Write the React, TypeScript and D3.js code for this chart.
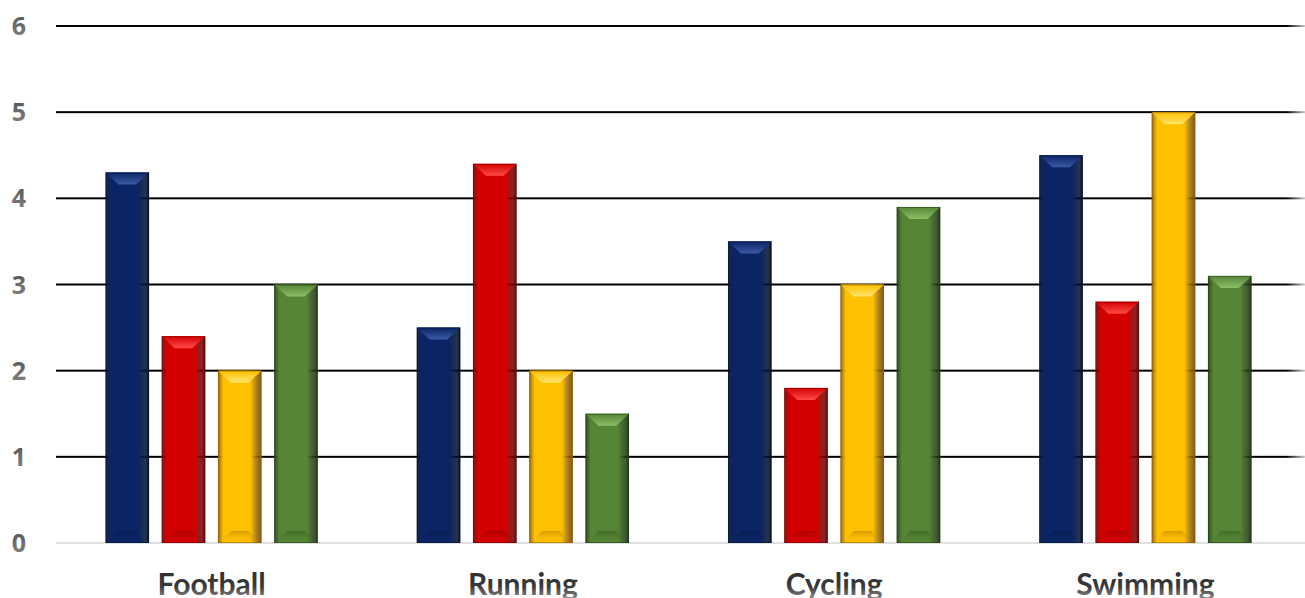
import React from "react";
import * as d3 from "d3";

const categories = ["Football", "Running", "Cycling", "Swimming"];
const seriesNames = ["Series 1", "Series 2", "Series 3", "Series 4"];
const series1 = [4.3, 2.5, 3.5, 4.5];
const series2 = [2.4, 4.4, 1.8, 2.8];
const series3 = [2.0, 2.0, 3.0, 5.0];
const series4 = [3.0, 1.5, 3.9, 3.1];
const yTicks = [0, 1, 2, 3, 4, 5, 6];

const W = 1305;
const H = 598;

const palette = [
  { base: "#0b2466", dark: "#00102e", light: "#3a5aa6" },
  { base: "#d40000", dark: "#6e0000", light: "#ff4a4a" },
  { base: "#ffc000", dark: "#8a5a00", light: "#ffe36a" },
  { base: "#558535", dark: "#1f3a12", light: "#8cbf66" },
];

export default function App() {
  const allSeries = [series1, series2, series3, series4];
  const x0 = d3.scaleBand<string>().domain(categories).range([56, 1301]).paddingInner(0).paddingOuter(0);
  const x1 = d3
    .scaleBand<string>()
    .domain(seriesNames)
    .range([0, x0.bandwidth()])
    .paddingInner(0.225)
    .paddingOuter(0.88);
  const y = d3.scaleLinear().domain([0, 6]).range([543, 26]);

  const bw = x1.bandwidth();
  const bevelD = 12;
  const bevelIn = 13;

  return (
    <svg
      width={W}
      height={H}
      style={{ position: "absolute", left: 0, top: 0, background: "#fff" }}
      fontFamily="'Open Sans', sans-serif"
    >
      <defs>
        {palette.map((c, i) => (
          <React.Fragment key={i}>
            <linearGradient id={`body${i}`} x1="0" x2="1" y1="0" y2="0">
              <stop offset="0" stopColor={c.dark} stopOpacity={0.9} />
              <stop offset="0.12" stopColor={c.base} />
              <stop offset="0.75" stopColor={c.base} />
              <stop offset="0.92" stopColor={c.dark} stopOpacity={0.85} />
              <stop offset="1" stopColor={c.dark} />
            </linearGradient>
            <linearGradient id={`top${i}`} x1="0" x2="0" y1="0" y2="1">
              <stop offset="0" stopColor={c.base} />
              <stop offset="1" stopColor={c.light} />
            </linearGradient>
            <linearGradient id={`bot${i}`} x1="0" x2="0" y1="0" y2="1">
              <stop offset="0" stopColor={c.dark} stopOpacity={0.35} />
              <stop offset="1" stopColor={c.base} stopOpacity={0} />
            </linearGradient>
          </React.Fragment>
        ))}
        <linearGradient id="textGrad" x1="0" x2="0" y1="0" y2="1">
          <stop offset="0" stopColor="#2a2a2a" />
          <stop offset="0.6" stopColor="#3a3a3a" />
          <stop offset="1" stopColor="#9a9a9a" />
        </linearGradient>
        <linearGradient id="tickGrad" x1="0" x2="0" y1="0" y2="1">
          <stop offset="0" stopColor="#4a4a4a" />
          <stop offset="1" stopColor="#8a8a8a" />
        </linearGradient>
        <linearGradient id="gridFade" x1="0" x2="1" y1="0" y2="0">
          <stop offset="0" stopColor="#000" />
          <stop offset="0.985" stopColor="#000" />
          <stop offset="1" stopColor="#000" stopOpacity={0.2} />
        </linearGradient>
      </defs>

      {/* gridlines */}
      {yTicks.map((t) =>
        t === 0 ? (
          <line key={t} x1={56} x2={1305} y1={y(t)} y2={y(t)} stroke="#d6d6d6" strokeWidth={1.5} />
        ) : (
          <rect key={t} x={56} y={y(t) - 1} width={1305 - 56} height={2} fill="url(#gridFade)" />
        )
      )}

      {/* y tick labels */}
      {yTicks.map((t) => (
        <text
          key={`l${t}`}
          x={26}
          y={y(t)}
          dy="0.36em"
          textAnchor="end"
          fontSize={25}
          fontWeight={700}
          fill="url(#tickGrad)"
        >
          {t}
        </text>
      ))}

      {/* bars */}
      {categories.map((cat, ci) => (
        <g key={cat} transform={`translate(${x0(cat)},0)`}>
          {allSeries.map((s, si) => {
            const v = s[ci];
            const bx = x1(seriesNames[si]) as number;
            const top = y(v);
            const bottom = y(0);
            return (
              <g key={si}>
                <rect x={bx} y={top} width={bw} height={bottom - top} fill={`url(#body${si})`} />
                <path
                  d={`M${bx},${top}L${bx + bw},${top}L${bx + bw - bevelIn},${top + bevelD}L${bx + bevelIn},${top + bevelD}Z`}
                  fill={`url(#top${si})`}
                />
                <path
                  d={`M${bx + 2},${bottom}L${bx + bw - 2},${bottom}L${bx + bw - bevelIn},${bottom - bevelD}L${bx + bevelIn},${bottom - bevelD}Z`}
                  fill={`url(#bot${si})`}
                />
                <rect
                  x={bx + 0.5}
                  y={top + 0.5}
                  width={bw - 1}
                  height={bottom - top - 1}
                  fill="none"
                  stroke={palette[si].dark}
                  strokeOpacity={0.5}
                  strokeWidth={1}
                />
              </g>
            );
          })}
        </g>
      ))}

      {/* category labels */}
      {categories.map((cat) => (
        <text
          key={`c${cat}`}
          x={(x0(cat) as number) + x0.bandwidth() / 2}
          y={595}
          textAnchor="middle"
          fontSize={30}
          fontWeight={700}
          fill="url(#textGrad)"
          fontFamily="Lato, 'Open Sans', sans-serif"
        >
          {cat}
        </text>
      ))}
    </svg>
  );
}
